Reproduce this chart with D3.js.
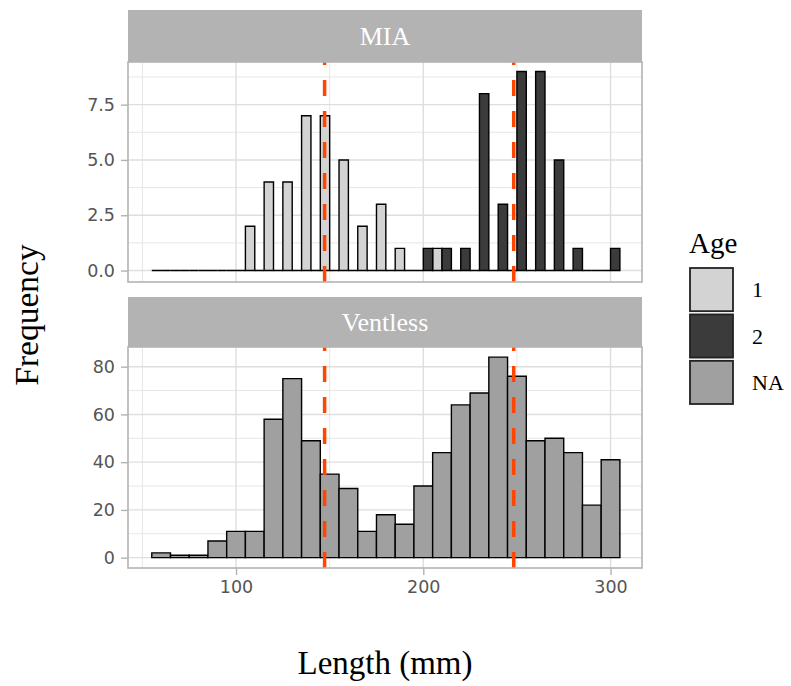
<!DOCTYPE html>
<html>
<head>
<meta charset="utf-8">
<script src="https://cdn.jsdelivr.net/npm/d3@7"></script>
<style>
  html, body { margin: 0; padding: 0; background: #ffffff; }
  svg { display: block; }
</style>
</head>
<body>
<svg id="chart" width="791" height="686"></svg>
<script>
// Histogram bins: 25 bins of 10 mm starting at 55 mm
const binStarts = [55, 65, 75, 85, 95, 105, 115, 125, 135, 145, 155, 165, 175,
                   185, 195, 205, 215, 225, 235, 245, 255, 265, 275, 285, 295];
const binWidth = 10;

// MIA facet, dodged by age
const miaAge1 = [0, 0, 0, 0, 0, 2, 4, 4, 7, 7, 5, 2, 3, 1, 0, 1, 0, 0, 0, 0, 0, 0, 0, 0, 0];
const miaAge2 = [0, 0, 0, 0, 0, 0, 0, 0, 0, 0, 0, 0, 0, 0, 1, 1, 1, 8, 3, 9, 9, 5, 1, 0, 1];

// Ventless facet, age unknown
const ventlessNA = [2, 1, 1, 7, 11, 11, 58, 75, 49, 35, 29, 11, 18, 14, 30, 44, 64, 69, 84, 76, 49, 50, 44, 22, 41];

// Reference lines (mean length of each age class)
const refLines = [147.3, 248.3];

const facetNames = ["MIA", "Ventless"];
const ageLevels = ["1", "2", "NA"];
const ageColors = ["#d3d3d3", "#3b3b3b", "#a0a0a0"];

const xTicks = [100, 200, 300];
const xMinor = [50, 150, 250];
const yTicksTop = [0, 2.5, 5, 7.5];
const yMinorTop = [1.25, 3.75, 6.25, 8.75];
const yTicksBot = [0, 20, 40, 60, 80];
const yMinorBot = [10, 30, 50, 70];

const svg = d3.select("#chart");
const serif = "'Liberation Serif', 'Times New Roman', serif";
const sans = "'DejaVu Sans', Verdana, sans-serif";

const L = 128, R = 642;
const panels = [
  { name: facetNames[0], stripTop: 10, top: 62, bottom: 282,
    y: d3.scaleLinear().domain([-0.45, 9.45]).range([280.5, 61.5]),
    ticks: yTicksTop, minor: yMinorTop, fmt: d3.format(".1f") },
  { name: facetNames[1], stripTop: 297, top: 347, bottom: 568,
    y: d3.scaleLinear().domain([-4.2, 88.2]).range([567.7, 347.1]),
    ticks: yTicksBot, minor: yMinorBot, fmt: d3.format("d") }
];

const x = d3.scaleLinear().domain([42.3, 316.8]).range([L, R]);

function barPath(x0, x1, y0, y1) {
  return `M${x0},${y0}H${x1}V${y1}H${x0}Z`;
}

panels.forEach((p, pi) => {
  const g = svg.append("g");
  const clipId = "clip" + pi;
  svg.append("clipPath").attr("id", clipId)
    .append("rect").attr("x", L).attr("y", p.top).attr("width", R - L).attr("height", p.bottom - p.top);

  // strip
  g.append("rect").attr("x", L).attr("y", p.stripTop).attr("width", R - L)
    .attr("height", p.top - p.stripTop).attr("fill", "#b3b3b3");
  g.append("text").attr("x", (L + R) / 2).attr("y", (p.stripTop + p.top) / 2)
    .attr("dy", "0.35em").attr("text-anchor", "middle")
    .attr("font-family", serif).attr("font-size", 26).attr("fill", "#ffffff")
    .text(p.name);

  // grid
  const grid = g.append("g").attr("clip-path", `url(#${clipId})`);
  grid.selectAll(".vmin").data(xMinor).join("line")
    .attr("x1", d => x(d)).attr("x2", d => x(d)).attr("y1", p.top).attr("y2", p.bottom)
    .attr("stroke", "#e6e6e6").attr("stroke-width", 1);
  grid.selectAll(".hmin").data(p.minor).join("line").attr("class", "hmin")
    .attr("x1", L).attr("x2", R).attr("y1", d => p.y(d)).attr("y2", d => p.y(d))
    .attr("stroke", "#e6e6e6").attr("stroke-width", 1);
  grid.selectAll(".vmaj").data(xTicks).join("line").attr("class", "vmaj")
    .attr("x1", d => x(d)).attr("x2", d => x(d)).attr("y1", p.top).attr("y2", p.bottom)
    .attr("stroke", "#dedede").attr("stroke-width", 1.4);
  grid.selectAll(".hmaj").data(p.ticks).join("line").attr("class", "hmaj")
    .attr("x1", L).attr("x2", R).attr("y1", d => p.y(d)).attr("y2", d => p.y(d))
    .attr("stroke", "#dedede").attr("stroke-width", 1.4);

  // bars
  const bars = g.append("g").attr("clip-path", `url(#${clipId})`);
  if (pi === 0) {
    const groups = [miaAge1, miaAge2];
    groups.forEach((vals, gi) => {
      bars.selectAll(".b" + gi).data(binStarts).join("path")
        .attr("d", (b, i) => {
          const x0 = x(b) + (x(b + binWidth) - x(b)) / 2 * gi;
          const x1 = x0 + (x(b + binWidth) - x(b)) / 2;
          return barPath(x0, x1, p.y(0), p.y(vals[i]));
        })
        .attr("fill", ageColors[gi]).attr("stroke", "#000").attr("stroke-width", 1.4);
    });
  } else {
    bars.selectAll(".bn").data(binStarts).join("path")
      .attr("d", (b, i) => barPath(x(b), x(b + binWidth), p.y(0), p.y(ventlessNA[i])))
      .attr("fill", ageColors[2]).attr("stroke", "#000").attr("stroke-width", 1.4);
  }

  // reference lines, drawn bottom to top
  g.append("g").attr("clip-path", `url(#${clipId})`)
    .selectAll("line").data(refLines).join("line")
    .attr("x1", d => x(d)).attr("x2", d => x(d))
    .attr("y1", p.bottom).attr("y2", p.top)
    .attr("stroke", "#ff4500").attr("stroke-width", 3.5)
    .attr("stroke-dasharray", "16,15");

  // panel border
  g.append("rect").attr("x", L).attr("y", p.top).attr("width", R - L)
    .attr("height", p.bottom - p.top).attr("fill", "none")
    .attr("stroke", "#b3b3b3").attr("stroke-width", 1.6);

  // y axis
  const yAxis = g.append("g").attr("transform", `translate(${L},0)`)
    .call(d3.axisLeft(p.y).tickValues(p.ticks).tickFormat(p.fmt).tickSize(7).tickPadding(6));
  yAxis.select(".domain").remove();
  yAxis.selectAll(".tick line").attr("stroke", "#b3b3b3").attr("stroke-width", 1.4);
  yAxis.selectAll(".tick text").attr("font-family", sans).attr("font-size", 17.5).attr("fill", "#555555");

  if (pi === 1) {
    const xAxis = g.append("g").attr("transform", `translate(0,${p.bottom})`)
      .call(d3.axisBottom(x).tickValues(xTicks).tickSize(7).tickPadding(6));
    xAxis.select(".domain").remove();
    xAxis.selectAll(".tick line").attr("stroke", "#b3b3b3").attr("stroke-width", 1.4);
    xAxis.selectAll(".tick text").attr("font-family", sans).attr("font-size", 17.5).attr("fill", "#555555");
  }
});

// axis titles
svg.append("text").attr("transform", "translate(38,315) rotate(-90)")
  .attr("text-anchor", "middle").attr("font-family", serif).attr("font-size", 33.5)
  .attr("fill", "#000").text("Frequency");
svg.append("text").attr("x", (L + R) / 2).attr("y", 674)
  .attr("text-anchor", "middle").attr("font-family", serif).attr("font-size", 33)
  .attr("fill", "#000").text("Length (mm)");

// legend
const leg = svg.append("g").attr("transform", "translate(689,0)");
leg.append("text").attr("x", 0).attr("y", 253).attr("font-family", serif)
  .attr("font-size", 29).attr("fill", "#000").text("Age");
const keyY = d3.scaleBand().domain(ageLevels).range([268, 404]).paddingInner(0.07);
leg.selectAll(".key").data(ageLevels).join("rect")
  .attr("x", 1).attr("y", d => keyY(d)).attr("width", 43).attr("height", keyY.bandwidth())
  .attr("fill", (d, i) => ageColors[i]).attr("stroke", "#222").attr("stroke-width", 1.8);
leg.selectAll(".lab").data(ageLevels).join("text")
  .attr("x", 63).attr("y", d => keyY(d) + keyY.bandwidth() / 2).attr("dy", "0.35em")
  .attr("font-family", serif).attr("font-size", 22).attr("fill", "#000").text(d => d);
</script>
</body>
</html>
